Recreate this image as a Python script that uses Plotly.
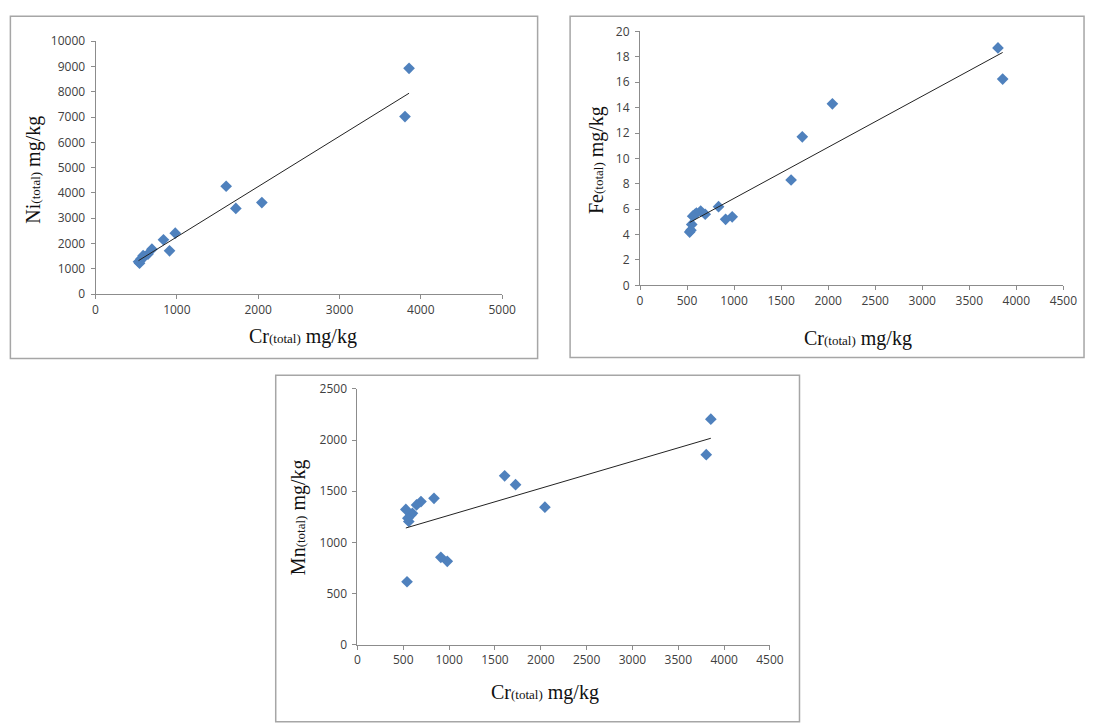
import numpy as np
import plotly.graph_objects as go

# ---- data ----
cr_total = [3855, 3805, 1606, 1725, 2045, 980, 910, 835, 693, 645, 600, 585, 560, 550, 541, 528]
ni_total = [8930, 7020, 4265, 3390, 3620, 2410, 1714, 2150, 1778, 1585, 1480, 1520, 1400, 1330, 1224, 1280]
fe_total = [16.25, 18.7, 8.3, 11.7, 14.3, 5.4, 5.2, 6.2, 5.6, 5.85, 5.7, 5.6, 5.45, 4.8, 4.35, 4.2]
mn_total = [2204, 1857, 1650, 1564, 1344, 815, 854, 1430, 1398, 1366, 1284, 1270, 1204, 1236, 615, 1322]

W, H = 1100, 723
MARKER = "#4F81BD"
AXIS_C = "#8c8c8c"
TICK_FONT = dict(family="Open Sans", size=12, color="#404040")
TITLE_FONT = dict(family="Liberation Serif", size=20, color="#111111")

def px(x):
    return x / W

def py(y):
    return 1 - y / H

panels = [
    dict(y=ni_total, xa="x", ya="y", xd=(94, 507), yd=(33, 292), xr=(0, 5000), xdt=1000,
         yr=(0, 10000), ydt=1000, lab="Ni", yt=(31, 165), xt=(305, 335), box=(7.5, 7.5, 543, 358)),
    dict(y=fe_total, xa="x2", ya="y2", xd=(647, 1077), yd=(23, 283), xr=(0, 4500), xdt=500,
         yr=(0, 20), ydt=2, lab="Fe", yt=(603, 155), xt=(868, 337), box=(576, 7.5, 1098, 357)),
    dict(y=mn_total, xa="x3", ya="y3", xd=(360, 779), yd=(389, 651), xr=(0, 4500), xdt=500,
         yr=(0, 2500), ydt=500, lab="Mn", yt=(300, 520), xt=(551, 700), box=(277, 375, 809, 730)),
]

fig = go.Figure()
layout = dict(width=W, height=H, margin=dict(l=0, r=0, t=0, b=0),
              paper_bgcolor="white", plot_bgcolor="white", showlegend=False,
              shapes=[], annotations=[])

for i, p in enumerate(panels):
    xs = np.array(cr_total, dtype=float)
    ys = np.array(p["y"], dtype=float)
    fig.add_trace(go.Scatter(x=cr_total, y=p["y"], mode="markers", xaxis=p["xa"], yaxis=p["ya"],
                             marker=dict(symbol="diamond", size=9, color=MARKER,
                                         line=dict(width=0))))
    k, b = np.polyfit(xs, ys, 1)
    lx = [xs.min(), xs.max()]
    fig.add_trace(go.Scatter(x=lx, y=[k * v + b for v in lx], mode="lines",
                             xaxis=p["xa"], yaxis=p["ya"],
                             line=dict(color="#222222", width=1)))
    sfx = "" if i == 0 else str(i + 1)
    layout["xaxis" + sfx] = dict(domain=[px(p["xd"][0]), px(p["xd"][1])], range=list(p["xr"]),
                                 dtick=p["xdt"], tick0=0, showgrid=False, zeroline=False,
                                 showline=True, linecolor=AXIS_C, linewidth=1,
                                 ticks="outside", ticklen=4, tickcolor=AXIS_C,
                                 tickfont=TICK_FONT, tickformat="d",
                                 anchor="y" + sfx, fixedrange=True)
    layout["yaxis" + sfx] = dict(domain=[py(p["yd"][1]), py(p["yd"][0])], range=list(p["yr"]),
                                 dtick=p["ydt"], tick0=0, showgrid=False, zeroline=False,
                                 showline=True, linecolor=AXIS_C, linewidth=1,
                                 ticks="outside", ticklen=4, tickcolor=AXIS_C,
                                 tickfont=TICK_FONT, tickformat="d",
                                 anchor="x" + sfx, fixedrange=True,
                                 ticklabelstandoff=3)
    x0, y0, x1, y1 = p["box"]
    layout["shapes"].append(dict(type="rect", xref="paper", yref="paper",
                                 x0=px(x0), x1=px(x1), y0=py(y1), y1=py(y0),
                                 line=dict(color="#a6a6a6", width=1.5), fillcolor="rgba(0,0,0,0)",
                                 layer="below"))
    layout["annotations"].append(dict(
        text='Cr<span style="font-size:13px">(total)</span> mg/kg', xref="paper", yref="paper",
        x=px(p["xt"][0]), y=py(p["xt"][1]), xanchor="center", yanchor="middle",
        showarrow=False, font=TITLE_FONT))
    layout["annotations"].append(dict(
        text=p["lab"] + '<span style="font-size:13px">(total)</span> mg/kg', xref="paper", yref="paper",
        x=px(p["yt"][0]), y=py(p["yt"][1]), xanchor="center", yanchor="middle",
        textangle=-90, showarrow=False, font=TITLE_FONT))

fig.update_layout(**layout)
fig.write_html("out.html")
